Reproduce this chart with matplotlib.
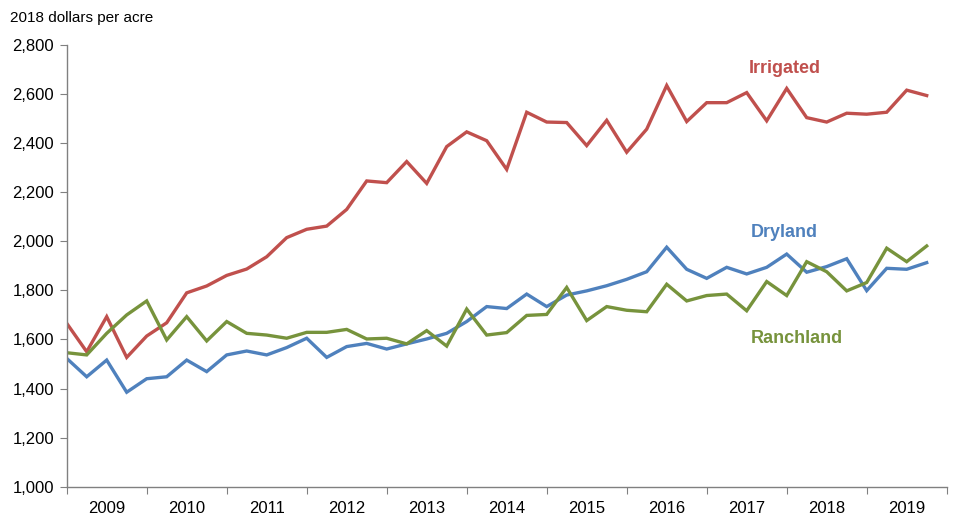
import matplotlib
matplotlib.use("Agg")
import matplotlib.pyplot as plt
from matplotlib.ticker import FuncFormatter, FixedLocator

plt.rcParams['font.family'] = ['Liberation Sans', 'DejaVu Sans']

years = [str(y) for y in range(2009, 2020)]

irrigated = [1666, 1550, 1693, 1527, 1614, 1668, 1790, 1818, 1861, 1887, 1937, 2015,
             2049, 2062, 2130, 2246, 2239, 2325, 2236, 2386, 2446, 2410, 2293, 2526,
             2486, 2484, 2390, 2493, 2363, 2457, 2635, 2488, 2565, 2565, 2606, 2491,
             2623, 2504, 2486, 2522, 2518, 2526, 2616, 2594]
dryland = [1523, 1448, 1516, 1385, 1440, 1448, 1516, 1469, 1537, 1553, 1537, 1567,
           1605, 1527, 1571, 1584, 1561, 1582, 1602, 1625, 1673, 1734, 1726, 1785,
           1734, 1781, 1798, 1819, 1845, 1876, 1976, 1886, 1849, 1894, 1867, 1894,
           1948, 1874, 1897, 1929, 1799, 1890, 1886, 1913]
ranchland = [1546, 1537, 1625, 1700, 1757, 1598, 1693, 1594, 1673, 1625, 1618, 1605,
             1629, 1629, 1641, 1602, 1605, 1582, 1636, 1573, 1724, 1618, 1628, 1698,
             1702, 1812, 1677, 1734, 1719, 1713, 1825, 1757, 1779, 1785, 1717, 1836,
             1779, 1917, 1876, 1798, 1832, 1972, 1917, 1981]

c_red = '#C0504D'
c_blue = '#4F81BD'
c_green = '#77933C'

fig = plt.figure(figsize=(9.75, 5.32), dpi=100)
ax = fig.add_axes([66.7/975, 1-486.7/532, 880/975, (486.7-45)/532])

x = list(range(len(irrigated)))
ax.plot(x, irrigated, color=c_red, lw=2.4, solid_joinstyle='miter')
ax.plot(x, dryland, color=c_blue, lw=2.4, solid_joinstyle='miter')
ax.plot(x, ranchland, color=c_green, lw=2.4, solid_joinstyle='miter')

ax.set_xlim(0, 44)
ax.set_ylim(1000, 2800)
ax.set_yticks(range(1000, 2801, 200))
ax.yaxis.set_major_formatter(FuncFormatter(lambda v, p: f"{int(v):,}"))

ax.xaxis.set_major_locator(FixedLocator([4*k for k in range(12)]))
ax.xaxis.set_major_formatter(FuncFormatter(lambda v, p: ""))
ax.xaxis.set_minor_locator(FixedLocator([4*k+2 for k in range(11)]))
ax.set_xticklabels(years, minor=True)
ax.tick_params(axis='x', which='minor', length=0, labelsize=12, pad=10)
ax.tick_params(axis='x', which='major', length=5, color='#808080', direction='out')
ax.tick_params(axis='y', length=5, color='#808080', direction='out', labelsize=12, pad=4)

for s in ['top', 'right']:
    ax.spines[s].set_visible(False)
for s in ['left', 'bottom']:
    ax.spines[s].set_color('#808080')
    ax.spines[s].set_linewidth(1)

ax.text(35.9, 2706, 'Irrigated', color=c_red, fontsize=13, fontweight='bold', ha='center', va='center')
ax.text(35.9, 2035, 'Dryland', color=c_blue, fontsize=13, fontweight='bold', ha='center', va='center')
ax.text(36.5, 1605, 'Ranchland', color=c_green, fontsize=13, fontweight='bold', ha='center', va='center')

fig.text(10/975, 1-18/532, '2018 dollars per acre', fontsize=11, ha='left', va='center')

fig.savefig('out.png', dpi=100)
